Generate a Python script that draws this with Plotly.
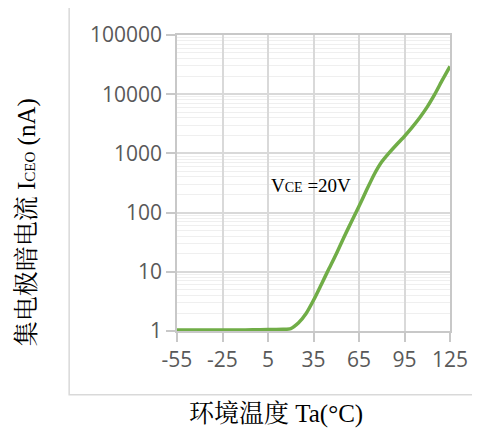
import plotly.graph_objects as go

# Data
temps = [-55, -45, -35, -25, -15, -5, 5, 15, 20, 25, 30, 35, 40, 45, 50, 55, 60,
         65, 70, 75, 80, 85, 90, 95, 100, 105, 110, 115, 120, 125]
iceo_na = [1.04, 1.04, 1.04, 1.04, 1.04, 1.05, 1.06, 1.07, 1.1, 1.36, 1.95, 3.3, 6.0,
           11, 20, 38, 70, 128, 240, 440, 720, 1030, 1430, 1950, 2750, 4000, 6100,
           10000, 17400, 29500]

x_ticks = [-55, -25, 5, 35, 65, 95, 125]
x_ticktext = ["-55", "-25", "5", "35", "65", "95", "125"]
y_ticks = [1, 10, 100, 1000, 10000, 100000]
y_ticktext = ["1", "10", "100", "1000", "10000", "100000"]

x_title = "环境温度 Ta(°C)"
y_title = "集电极暗电流 I<span style='font-size:15px'>CEO</span> (nA)"
note = "V<span style='font-size:14px'>CE</span> =20V"

serif = "Liberation Serif, Noto Serif CJK SC, Noto Sans CJK SC, serif"
tickfont = dict(family="Open Sans, Liberation Sans, sans-serif", size=21, color="#595959")

fig = go.Figure()
fig.add_trace(go.Scatter(
    x=temps, y=iceo_na, mode="lines",
    line=dict(color="#70ad47", width=3.5, shape="spline", smoothing=0.6),
    showlegend=False, hoverinfo="skip"))

fig.update_layout(
    width=472, height=427,
    margin=dict(l=169, r=27, t=25, b=104),
    paper_bgcolor="white", plot_bgcolor="white",
    xaxis=dict(range=[-55, 125], tickvals=x_ticks, ticktext=x_ticktext,
               ticks="outside", ticklen=9,
               tickcolor="#c8c8c8", tickwidth=1.5, showgrid=True, gridcolor="#d9d9d9",
               gridwidth=1.5, showline=True, linecolor="#c8c8c8", linewidth=1.5,
               mirror=True, zeroline=False, tickfont=tickfont),
    yaxis=dict(type="log", range=[0, 5], tickvals=y_ticks, ticktext=y_ticktext,
               ticks="outside", ticklen=9, tickcolor="#c8c8c8", tickwidth=1.5,
               showgrid=True, gridcolor="#d9d9d9", gridwidth=1.5,
               minor=dict(dtick="D1", showgrid=True, gridcolor="#efefef", gridwidth=1),
               showline=True, linecolor="#c8c8c8", linewidth=1.5, mirror=True,
               zeroline=False, tickfont=tickfont),
    shapes=[dict(type="rect", xref="paper", yref="paper",
                 x0=-0.395, x1=1.12, y0=-0.215, y1=1.094,
                 line=dict(color="#d9d9d9", width=1.5), layer="below")],
    annotations=[
        dict(text=x_title, xref="paper", yref="paper", x=0.362, y=-0.282,
             showarrow=False, font=dict(family=serif, size=25, color="black"),
             xanchor="center", yanchor="middle"),
        dict(text=y_title, xref="paper", yref="paper", x=-0.551, y=0.366,
             showarrow=False, textangle=-90,
             font=dict(family=serif, size=25, color="black"),
             xanchor="center", yanchor="middle"),
        dict(text=note, x=33.5, y=2.45, xref="x", yref="y",
             showarrow=False, font=dict(family=serif, size=19, color="black"),
             xanchor="center", yanchor="middle"),
    ],
)

fig.write_html("out.html")
